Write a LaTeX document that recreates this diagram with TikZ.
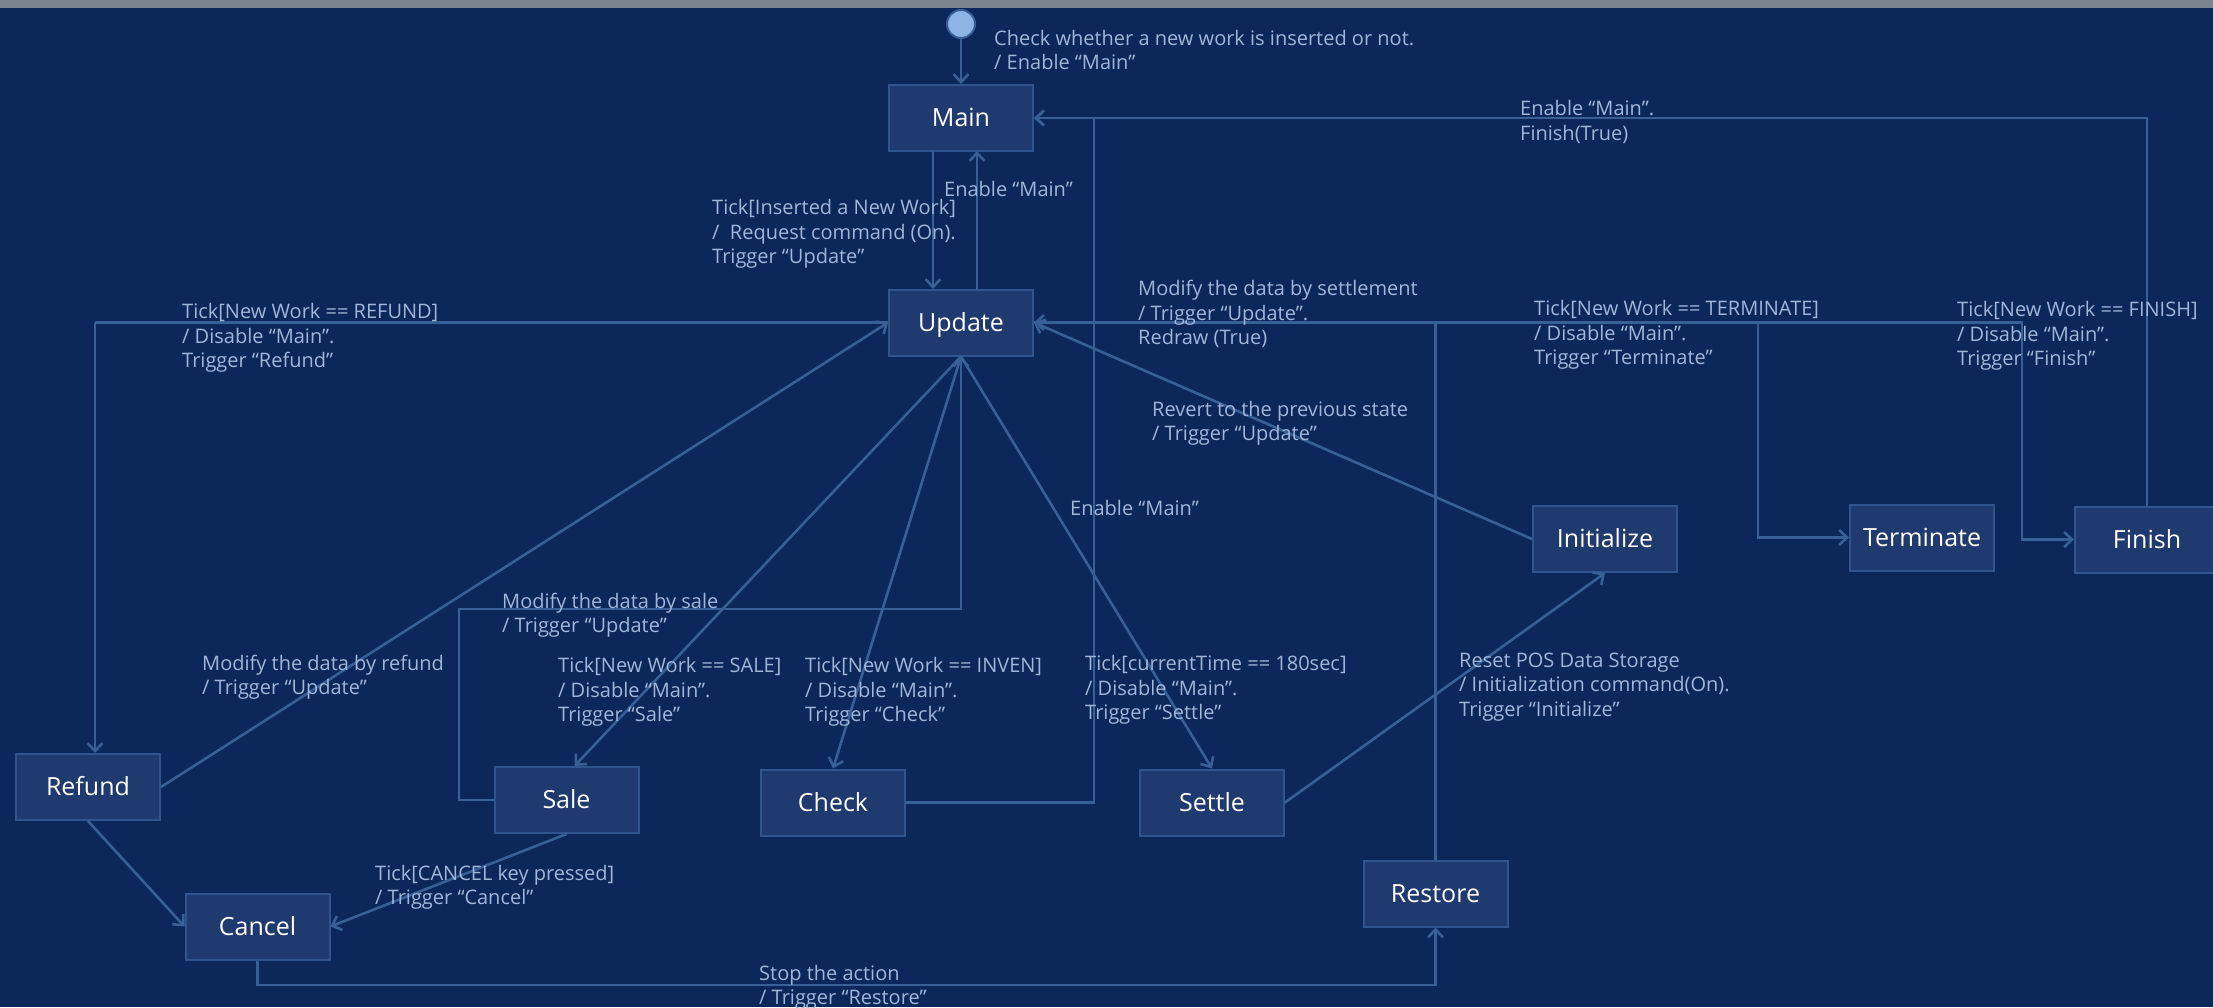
\documentclass[tikz,border=0pt]{standalone}
\usepackage{fontspec}
\setmainfont{Open Sans}
\usetikzlibrary{arrows.meta}
\definecolor{bgcol}{RGB}{12,39,90}
\definecolor{boxfill}{RGB}{31,58,110}
\definecolor{boxline}{RGB}{50,84,140}
\definecolor{linecol}{RGB}{58,95,148}
\definecolor{labcol}{RGB}{160,182,218}
\definecolor{initfill}{RGB}{142,180,227}
\definecolor{stripcol}{RGB}{122,131,142}
\begin{document}
\begin{tikzpicture}[x=1pt,y=-1pt,
  state/.style={draw=boxline, line width=2pt, fill=boxfill, minimum width=144pt, minimum height=66pt, inner sep=0pt, text height=17.8pt, text depth=0pt, text=white, font=\fontsize{25}{30}\selectfont},
  lab/.style={anchor=west, inner sep=0pt, align=left, text=labcol, font=\fontsize{20}{24.4}\selectfont},
  arr/.style={draw=linecol, line width=2.6pt, -{Straight Barb[length=8pt,width=15pt]}},
  conn/.style={draw=linecol, line width=2.6pt}]
\useasboundingbox (0,0) rectangle (2213,1007);
\fill[bgcol] (0,0) rectangle (2213,1007);
\fill[stripcol] (0,0) rectangle (2213,8);

% states
\node[circle, draw=linecol, line width=2pt, fill=initfill, minimum size=28pt, inner sep=0pt, text height=0pt, text depth=0pt] (init) at (961,24) {};
\node[state] (Main) at (961,118) {Main};
\node[state] (Update) at (961,322.5) {Update};
\node[state] (Refund) at (88,787) {Refund};
\node[state] (Sale) at (566.5,800) {Sale};
\node[state] (Check) at (833,802.5) {Check};
\node[state] (Settle) at (1212,802.5) {Settle};
\node[state] (Cancel) at (257.5,926.5) {Cancel};
\node[state] (Restore) at (1435.5,893.5) {Restore};
\node[state] (Initialize) at (1605,539) {Initialize};
\node[state] (Terminate) at (1922,537.5) {Terminate};
\node[state] (Finish) at (2147,539.5) {Finish};

% bend points
\coordinate (refundcorner) at (95,322.5);
\coordinate (refundtop) at (95,753);
\coordinate (saleloop) at (459,609);
\coordinate (checkcorner) at (1094,118);
\coordinate (termcorner) at (1758,322.5);
\coordinate (fincorner) at (2022,322.5);
\coordinate (cancelcorner) at (257.5,985);
\coordinate (mainin) at (933,151);
\coordinate (updin) at (933,289);
\coordinate (mainout) at (977,151);
\coordinate (updout) at (977,289);

% connectors
\draw[arr] (init) -- (Main.north);
\draw[arr] (mainin) -- (updin);
\draw[arr] (updout) -- (mainout);
\draw[conn] (Update.west) -- (refundcorner);
\draw[arr] (refundcorner) -- (refundtop);
\draw[arr] (Refund.east) -- (Update.west);
\draw[arr] (Update.south) -- ([xshift=8pt]Sale.north);
\draw[arr] (Sale.west) -| (saleloop) -| (Update.south);
\draw[arr] (Update.south) -- (Check.north);
\draw[arr] (Check.east) -| (checkcorner) -- (Main.east);
\draw[arr] (Update.south) -- (Settle.north);
\draw[arr] (Settle.east) -- (Initialize.south);
\draw[arr] (Initialize.west) -- (Update.east);
\draw[arr] (Restore.north) |- (Update.east);
\draw[arr] (Update.east) -- (termcorner) |- (Terminate.west);
\draw[arr] (Update.east) -- (fincorner) |- (Finish.west);
\draw[arr] (Finish.north) |- (Main.east);
\draw[arr] (Sale.south) -- (Cancel.east);
\draw[arr] (Refund.south) -- (Cancel.west);
\draw[arr] (Cancel.south) -- (cancelcorner) -| (Restore.south);

% labels
\node[lab] (l0) at (994,50) {Check whether a new work is inserted or not.\\/ Enable “Main”};
\node[lab] (l1) at (944,189) {Enable “Main”};
\node[lab] (l2) at (712,234) {Tick[Inserted a New Work]\\/\ \ Request command (On).\\Trigger “Update”};
\node[lab] (l3) at (182,338) {Tick[New Work == REFUND]\\/ Disable “Main”.\\Trigger “Refund”};
\node[lab] (l4) at (202,677) {Modify the data by refund\\/ Trigger “Update”};
\node[lab] (l5) at (502,615) {Modify the data by sale\\/ Trigger “Update”};
\node[lab] (l6) at (558,692) {Tick[New Work == SALE]\\/ Disable “Main”.\\Trigger “Sale”};
\node[lab] (l7) at (805,692) {Tick[New Work == INVEN]\\/ Disable “Main”.\\Trigger “Check”};
\node[lab] (l8) at (1085,690) {Tick[currentTime == 180sec]\\/ Disable “Main”.\\Trigger “Settle”};
\node[lab] (l9) at (1070,508) {Enable “Main”};
\node[lab] (l10) at (1459,687) {Reset POS Data Storage\\/ Initialization command(On).\\Trigger “Initialize”};
\node[lab] (l11) at (1152,423) {Revert to the previous state\\/ Trigger “Update”};
\node[lab] (l12) at (375,887) {Tick[CANCEL key pressed]\\/ Trigger “Cancel”};
\node[lab] (l13) at (759,987) {Stop the action\\/ Trigger “Restore”};
\node[lab] (l14) at (1138,314) {Modify the data by settlement\\/ Trigger “Update”.\\Redraw (True)};
\node[lab] (l15) at (1520,122) {Enable “Main”.\\Finish(True)};
\node[lab] (l16) at (1534,335) {Tick[New Work == TERMINATE]\\/ Disable “Main”.\\Trigger “Terminate”};
\node[lab] (l17) at (1957,336) {Tick[New Work == FINISH]\\/ Disable “Main”.\\Trigger “Finish”};
\end{tikzpicture}
\end{document}
